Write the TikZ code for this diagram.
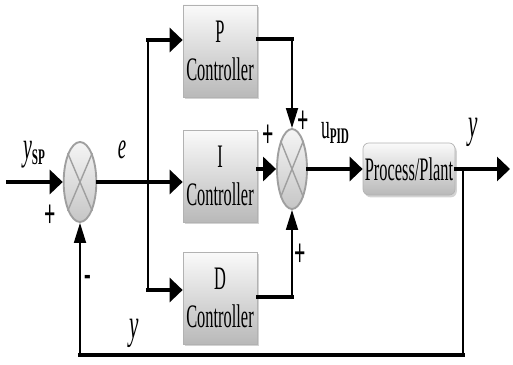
\documentclass[tikz,border=0pt]{standalone}
\usepackage{fontspec}
\setmainfont[FakeStretch=0.5]{Liberation Serif}
\usetikzlibrary{arrows.meta,shapes.geometric,shadows,calc}

\tikzset{
  ctrl/.style={draw=gray!60, line width=0.6pt, top color=gray!4, bottom color=gray!55,
    minimum width=2.22cm, minimum height=2.76cm, inner sep=0pt, align=center,
    font=\fontsize{28}{33}\selectfont,
    drop shadow={opacity=0.35, shadow xshift=1.5pt, shadow yshift=-2pt}},
  plantbox/.style={ctrl, rounded corners=5pt, minimum width=2.76cm, minimum height=1.56cm},
  sumnode/.style={ellipse, draw=gray!75, line width=1.6pt, top color=gray!8, bottom color=gray!45,
    minimum width=0.98cm, minimum height=2.4cm, inner sep=0pt},
  wire/.style={line width=2.6pt, line cap=rect},
  thinwire/.style={line width=1.5pt, line cap=rect},
  hto/.style={-{Triangle[length=0.39cm,width=0.72cm]}},
  vto/.style={-{Triangle[length=0.6cm,width=0.36cm]}},
  lbl/.style={inner sep=0pt},
  sign/.style={inner sep=0pt, font=\fontsize{34}{34}\selectfont\bfseries},
}

\begin{document}
\begin{tikzpicture}[x=0.03cm, y=-0.03cm]
  \useasboundingbox (0,0) rectangle (513,364);

  % summing junctions
  \node[sumnode] (sum1) at (80,182) {};
  \node[sumnode, minimum width=0.9cm] (sum2) at (292,169) {};
  \draw[gray!75, line width=1.2pt] (sum1.67) -- (sum1.247) (sum1.113) -- (sum1.293);
  \draw[gray!75, line width=1.2pt] (sum2.68) -- (sum2.248) (sum2.112) -- (sum2.292);

  % controllers and plant
  \node[ctrl] (P) at (220,51) {P\\Controller};
  \node[ctrl] (I) at (220,176) {I\\Controller};
  \node[ctrl] (D) at (220,298) {D\\Controller};
  \node[plantbox] (plant) at (409,169) {Process/Plant};

  \coordinate (in) at (8,182);
  \coordinate (br) at (148,182);
  \coordinate (pin) at ($(P.west)+(0,-11)$);
  \coordinate (pout) at ($(P.east)+(0,-12)$);
  \coordinate (din) at ($(D.west)+(0,-8)$);
  \coordinate (dout) at ($(D.east)+(0,-1)$);
  \coordinate (out) at (510,169);
  \coordinate (fb) at (463,169);
  \coordinate (fbb) at (463,355);

  % input and error
  \draw[wire,hto] (in) -- (sum1.west);
  \draw[wire,hto] (sum1.east) -- (I.west |- sum1);
  \draw[thinwire] (br |- pin) -- (br |- din);
  \draw[wire,hto] (br |- pin) -- (pin);
  \draw[wire,hto] (br |- din) -- (din);

  % controller outputs
  \draw[wire] (pout) -- (sum2 |- pout);
  \draw[thinwire,vto] (sum2 |- pout) -- (sum2.north);
  \draw[wire,hto] (I.east |- sum2) -- (sum2.west);
  \draw[wire] (dout) -- (sum2 |- dout);
  \draw[thinwire,vto] (sum2 |- dout) -- (sum2.south);

  % plant, output and feedback
  \draw[wire,hto] (sum2.east) -- (plant.west);
  \draw[wire,hto] (plant.east) -- (out);
  \draw[thinwire] (fb) -- (fbb);
  \draw[wire] (fbb) -- (sum1 |- fbb);
  \draw[thinwire,vto] (sum1 |- fbb) -- (sum1.south);

  % labels
  \node[lbl] (ysp) at (34,155) {{\fontsize{34}{34}\selectfont\itshape y}{\fontsize{19}{19}\selectfont\bfseries\raisebox{-4pt}{SP}}};
  \node[lbl] (elbl) at (122,150) {\fontsize{32}{32}\selectfont\itshape e};
  \node[lbl] (upid) at (335,133) {{\fontsize{30}{30}\selectfont u}{\fontsize{19}{19}\selectfont\bfseries\raisebox{-5pt}{PID}}};
  \node[lbl] (ylbl) at (473,132) {\fontsize{36}{36}\selectfont\itshape y};
  \node[lbl] (yfb) at (134,333) {\fontsize{36}{36}\selectfont\itshape y};

  \node[sign] (s1) at (50,216) {+};
  \node[sign] (s2) at (88,281) {-};
  \node[sign] (s3) at (303,122) {+};
  \node[sign] (s4) at (268,136) {+};
  \node[sign] (s5) at (300,255) {+};
\end{tikzpicture}
\end{document}
